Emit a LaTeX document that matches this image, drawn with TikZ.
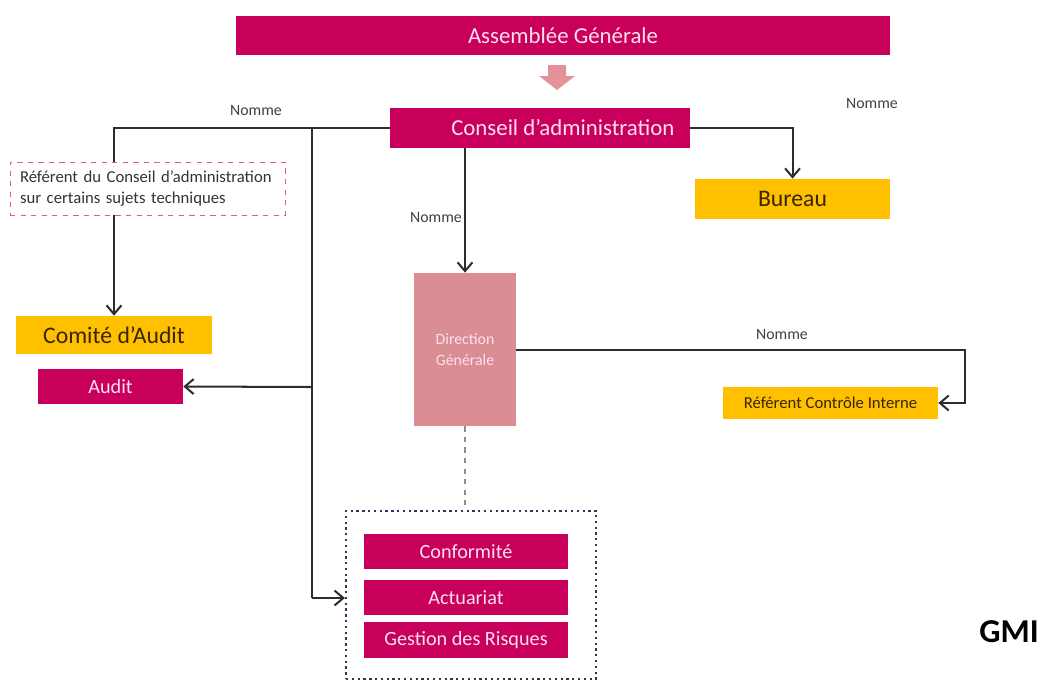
\documentclass[tikz,border=0pt]{standalone}
\usepackage{fontspec}
\setmainfont{Carlito}
\usetikzlibrary{arrows.meta}
\definecolor{magen}{RGB}{200,0,92}
\definecolor{ambre}{RGB}{255,192,0}
\definecolor{rosedg}{RGB}{218,141,146}
\definecolor{rosefl}{RGB}{226,146,152}
\definecolor{txtrose}{RGB}{255,222,240}
\definecolor{txtambre}{RGB}{55,38,0}
\definecolor{trait}{RGB}{45,45,45}
\definecolor{pointil}{RGB}{40,55,90}
\tikzset{
	boxmag/.style={fill=magen,text=txtrose,inner sep=0pt,font=\fontsize{11.5}{13}\selectfont},
	boxamb/.style={fill=ambre,text=txtambre,inner sep=0pt,font=\fontsize{13.5}{15}\selectfont},
	lien/.style={draw=trait,line width=1.15pt},
	fleche/.style={lien,-{Straight Barb[length=5pt,width=8.5pt,line width=1.15pt]}},
	nomme/.style={text=black!75,font=\fontsize{9}{10}\selectfont}
}
\begin{document}
\begin{tikzpicture}[x=0.02cm,y=-0.02cm]
	\useasboundingbox (0,0) rectangle (1043,680);
	%% top of the chart
	\node[boxmag,minimum width=13.08cm,minimum height=0.78cm,font=\fontsize{13}{15}\selectfont] (ag) at (563,35.5) {Assemblée Générale};
	\fill[rosefl] (548,65) -- (566,65) -- (566,76) -- (575,76) -- (557,90) -- (539,76) -- (548,76) -- cycle;
	\node[boxmag,minimum width=6cm,minimum height=0.8cm,font=\fontsize{13}{15}\selectfont] (ca) at (540,128) {\hspace{26pt}Conseil d'administration};
	%% committees and bureau
	\node[boxamb,minimum width=3.92cm,minimum height=0.76cm] (comite) at (114,335) {Comité d'Audit};
	\node[boxmag,minimum width=2.9cm,minimum height=0.7cm] (audit) at (110.5,386.5) {Audit};
	\node[boxamb,minimum width=3.9cm,minimum height=0.8cm] (bureau) at (792.5,199) {Bureau};
	%% direction
	\node[fill=rosedg,text=txtrose,minimum width=2.04cm,minimum height=3.06cm,inner sep=0pt,align=center,font=\fontsize{9}{12}\selectfont] (dg) at (465,349.5) {Direction\\Générale};
	\node[boxamb,minimum width=4.3cm,minimum height=0.64cm,font=\fontsize{9.5}{11}\selectfont] (rci) at (830.5,403) {Référent Contrôle Interne};
	%% key functions
	\node[draw=pointil,dotted,line width=1.3pt,minimum width=5cm,minimum height=3.36cm] (pole) at (471,595) {};
	\node[boxmag,minimum width=4.08cm,minimum height=0.7cm] (conf) at (466,551.5) {Conformité};
	\node[boxmag,minimum width=4.08cm,minimum height=0.7cm] (actu) at (466,597.5) {Actuariat};
	\node[boxmag,minimum width=4.08cm,minimum height=0.72cm] (risq) at (466,640) {Gestion des Risques};
	%% links
	\coordinate (b1) at (312,128);
	\coordinate (b2) at (312,387);
	\coordinate (b3) at (312,598);
	\coordinate (c1) at (965,403);
	\draw[fleche] (ca.west) -| (comite.north);
	\draw[lien] (b1) -- (b3);
	\draw[fleche] (b2) -- (audit.east);
	\draw[fleche] (b3) -- (pole.west |- b3);
	\draw[fleche] (ca.east) -| (bureau.north);
	\draw[fleche] (dg.north |- ca.south) -- (dg.north);
	\draw[fleche] (dg.east) -| (c1) -- (rci.east);
	\draw[draw=black!45,dashed,line width=1pt] (dg.south) -- (dg.south |- pole.north);
	\node[nomme] (n1) at (256,110) {Nomme};
	\node[nomme] (n2) at (872,103) {Nomme};
	\node[nomme] (n3) at (436,217) {Nomme};
	\node[nomme] (n4) at (782,334) {Nomme};
	%% referent of the board, over the line
	\node[draw={rgb,255:red,222;green,90;blue,150},dashed,fill=white,minimum width=5.5cm,minimum height=1.06cm,text width=5.1cm,align=left,inner sep=0pt,text=black!80,font=\fontsize{9.5}{12}\selectfont] (refca) at (147.5,188.5) {Référent du Conseil d'administration\\sur certains sujets techniques};
	\node[font=\bfseries\fontsize{19}{22}\selectfont] (gmi) at (1009,632) {GMI};
\end{tikzpicture}
\end{document}
